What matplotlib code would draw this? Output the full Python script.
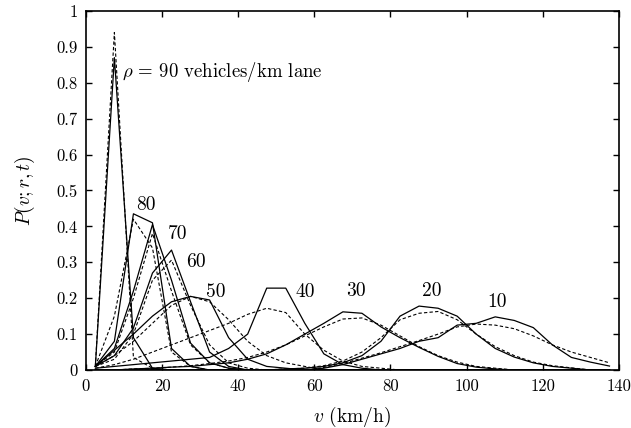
import numpy as np
import matplotlib.pyplot as plt

plt.rcParams['font.family'] = 'serif'
plt.rcParams['font.serif'] = ['cmr10', 'DejaVu Serif']
plt.rcParams['mathtext.fontset'] = 'cm'
plt.rcParams['axes.formatter.use_mathtext'] = True

# velocity bins (km/h), 5 km/h wide
v = np.arange(2.5, 140, 5.0)

# solid: simulation, dashed: model  (values start at v = 2.5)
solid_90 = [0.01, 0.87, 0.09, 0.005]
dashed_90 = [0.01, 0.94, 0.035, 0.005]
solid_80 = [0.01, 0.08, 0.435, 0.41, 0.06, 0.01]
dashed_80 = [0.01, 0.15, 0.42, 0.34, 0.05, 0.01]
solid_70 = [0.01, 0.06, 0.22, 0.405, 0.25, 0.075, 0.02, 0.005]
dashed_70 = [0.01, 0.05, 0.20, 0.38, 0.22, 0.07, 0.02, 0.005]
solid_60 = [0.01, 0.04, 0.117, 0.27, 0.334, 0.19, 0.05, 0.01]
dashed_60 = [0.01, 0.03, 0.10, 0.25, 0.306, 0.18, 0.07, 0.02, 0.005]
solid_50 = [0.01, 0.055, 0.10, 0.15, 0.19, 0.205, 0.195, 0.09, 0.03, 0.01, 0.005]
dashed_50 = [0.01, 0.04, 0.08, 0.13, 0.18, 0.205, 0.19, 0.14, 0.08, 0.04,
             0.02, 0.01]
solid_40 = [0.005, 0.01, 0.015, 0.02, 0.025, 0.03, 0.035, 0.06, 0.10, 0.228,
            0.228, 0.13, 0.045, 0.015, 0.005]
dashed_40 = [0.005, 0.015, 0.03, 0.05, 0.07, 0.09, 0.11, 0.13, 0.155, 0.172,
             0.16, 0.10, 0.055, 0.025, 0.01, 0.005]
solid_30 = [0, 0, 0.003, 0.005, 0.008, 0.01, 0.015, 0.02, 0.03, 0.045, 0.07,
            0.10, 0.13, 0.162, 0.158, 0.12, 0.09, 0.063, 0.038, 0.018, 0.008,
            0.003]
dashed_30 = [0, 0, 0.003, 0.005, 0.008, 0.012, 0.018, 0.025, 0.035, 0.05,
             0.07, 0.095, 0.12, 0.142, 0.145, 0.125, 0.095, 0.065, 0.04,
             0.022, 0.01, 0.005]
solid_20 = [0, 0, 0, 0, 0, 0, 0, 0, 0, 0, 0.003, 0.005, 0.01, 0.02, 0.04,
            0.08, 0.15, 0.178, 0.172, 0.15, 0.10, 0.06, 0.036, 0.02, 0.01,
            0.005]
dashed_20 = [0, 0, 0, 0, 0, 0, 0, 0, 0, 0, 0.003, 0.005, 0.012, 0.025, 0.05,
             0.09, 0.14, 0.158, 0.163, 0.14, 0.10, 0.065, 0.04, 0.022, 0.012,
             0.006]
solid_10 = [0, 0, 0, 0, 0, 0, 0, 0, 0, 0, 0, 0, 0.005, 0.015, 0.03, 0.045,
            0.06, 0.08, 0.09, 0.125, 0.13, 0.148, 0.138, 0.118, 0.07, 0.035,
            0.022, 0.011]
dashed_10 = [0, 0, 0, 0, 0, 0, 0, 0, 0, 0, 0, 0, 0.007, 0.018, 0.033, 0.048,
             0.065, 0.082, 0.10, 0.12, 0.128, 0.125, 0.115, 0.095, 0.07, 0.05,
             0.035, 0.02]

solids = [solid_90, solid_80, solid_70, solid_60, solid_50, solid_40,
          solid_30, solid_20, solid_10]
dashes = [dashed_90, dashed_80, dashed_70, dashed_60, dashed_50, dashed_40,
          dashed_30, dashed_20, dashed_10]

labels = ['80', '70', '60', '50', '40', '30', '20', '10']
label_pos = [(15.7, 0.46), (24.2, 0.38), (29.0, 0.30), (34.0, 0.218),
             (57.5, 0.218), (71.0, 0.22), (90.8, 0.22), (108.0, 0.19)]


def pad(vals):
    out = np.zeros(len(v))
    out[:len(vals)] = vals
    return out


fig = plt.figure(figsize=(6.31, 4.28), dpi=100)
ax = fig.add_axes([0.136, 0.1355, 0.845, 0.839])

for s, d in zip(solids, dashes):
    ax.plot(v, pad(s), color='black', lw=0.9)
    ax.plot(v, pad(d), color='black', lw=0.8, ls=(0, (3, 2)))

ax.text(9.6, 0.83, r'$\rho$ = 90 vehicles/km lane', fontsize=13.5,
        va='center', ha='left')
for lab, (x, y) in zip(labels, label_pos):
    ax.text(x, y, lab, fontsize=14, ha='center', va='center')

ax.set_xlim(0, 140)
ax.set_ylim(0, 1)
ax.set_xticks(np.arange(0, 141, 20))
ax.set_xticklabels([str(t) for t in range(0, 141, 20)])
yt = np.round(np.arange(0, 1.01, 0.1), 1)
ax.set_yticks(yt)
ax.set_yticklabels(['0'] + ['%.1f' % t for t in yt[1:-1]] + ['1'])
ax.tick_params(direction='in', top=True, right=True, length=4,
               width=1, labelsize=12, pad=6)
for sp in ax.spines.values():
    sp.set_linewidth(1.2)

ax.set_xlabel(r'$v$ (km/h)', fontsize=14, labelpad=8)
ax.set_ylabel(r'$P(v;r,t)$', fontsize=14, labelpad=14)

fig.savefig('out.png', dpi=100)
